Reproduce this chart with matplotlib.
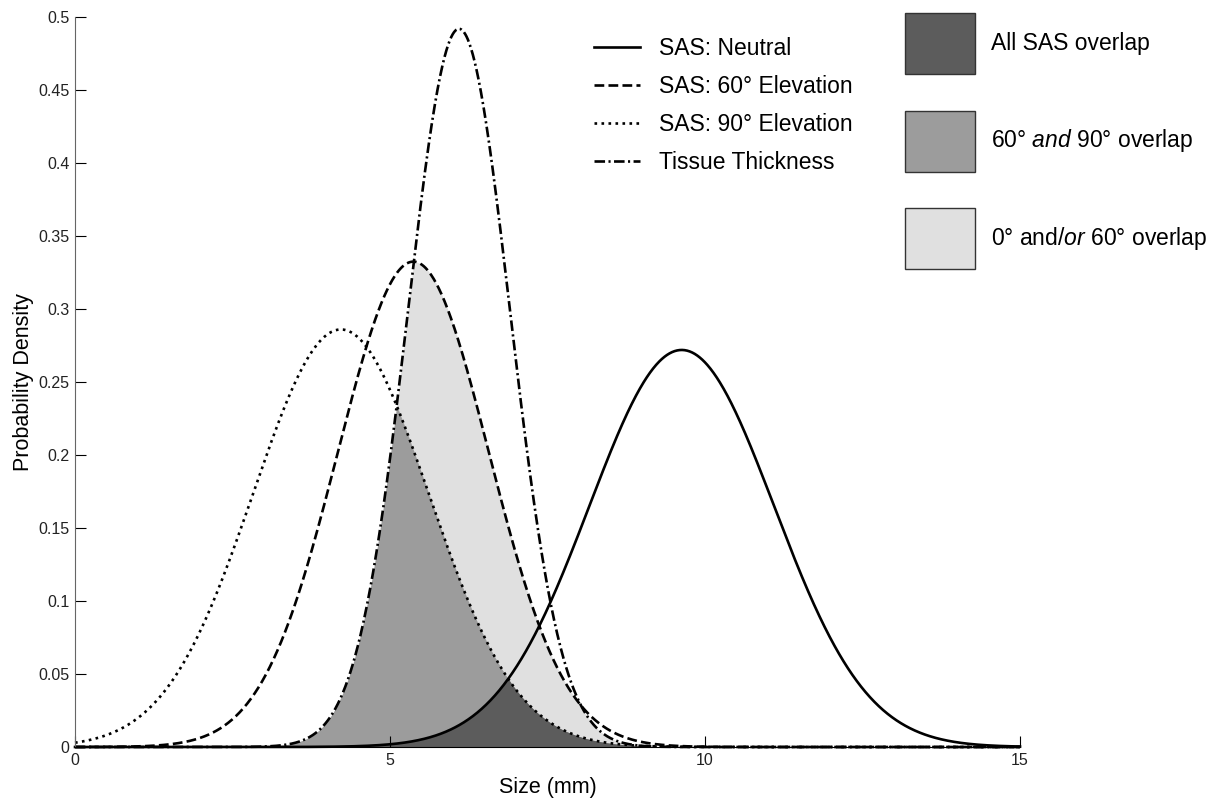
import numpy as np
import matplotlib
matplotlib.use('Agg')
import matplotlib.pyplot as plt
from matplotlib.lines import Line2D
from matplotlib.patches import Patch

plt.rcParams['font.family'] = ['Liberation Sans', 'DejaVu Sans']
plt.rcParams['mathtext.fontset'] = 'custom'
plt.rcParams['mathtext.rm'] = 'Liberation Sans'
plt.rcParams['mathtext.it'] = 'Liberation Sans:italic'

# Normalverteilungen (Mittelwert, Standardabweichung)
kurven_namen = ['SAS: Neutral', 'SAS: 60° Elevation', 'SAS: 90° Elevation', 'Tissue Thickness']
mittelwerte = [9.63, 5.37, 4.22, 6.095]
standardabw = [1.467, 1.200, 1.395, 0.811]
linienstile = ['-', '--', ':', (0, (4, 1.3, 0.8, 1.3))]

flaechen_namen = ['All SAS overlap', '60° $\\mathit{and}$ 90° overlap', '0° and/$\\mathit{or}$ 60° overlap']
flaechen_farben = ['#5c5c5c', '#9c9c9c', '#e0e0e0']

xticks = [0, 5, 10, 15]
yticks = [0, 0.05, 0.1, 0.15, 0.2, 0.25, 0.3, 0.35, 0.4, 0.45, 0.5]
ytick_labels = ['0', '0.05', '0.1', '0.15', '0.2', '0.25', '0.3', '0.35', '0.4', '0.45', '0.5']

x = np.linspace(0, 15, 1500)
dichten = [np.exp(-(x - m) ** 2 / (2 * s ** 2)) / (s * np.sqrt(2 * np.pi))
           for m, s in zip(mittelwerte, standardabw)]
neutral, e60, e90, gewebe = dichten

fig = plt.figure(figsize=(12.22, 7.98), dpi=100)
ax = fig.add_axes([0.0614, 0.0639, 0.7733, 0.9148])

# Ueberlappungsflaechen
ax.fill_between(x, 0, np.minimum(gewebe, e60), color=flaechen_farben[2], lw=0)
ax.fill_between(x, 0, np.minimum.reduce([gewebe, e60, e90]), color=flaechen_farben[1], lw=0)
ax.fill_between(x, 0, np.minimum.reduce([gewebe, e60, e90, neutral]), color=flaechen_farben[0], lw=0)

for y, ls, name in zip(dichten, linienstile, kurven_namen):
    ax.plot(x, y, color='black', ls=ls, lw=1.9, clip_on=False, label=name)

ax.set_xlim(0, 15)
ax.set_ylim(0, 0.5)
ax.set_xticks(xticks)
ax.set_xticklabels([str(t) for t in xticks])
ax.set_yticks(yticks)
ax.set_yticklabels(ytick_labels)
ax.tick_params(direction='in', length=8, labelsize=11.5, labelcolor='#222222', pad=4)
ax.spines['top'].set_visible(False)
ax.spines['right'].set_visible(False)
ax.spines['left'].set_color('#666666')
ax.spines['bottom'].set_color('black')

ax.set_xlabel('Size (mm)', fontsize=15.5, labelpad=7)
ax.set_ylabel('Probability Density', fontsize=15.5, labelpad=3)

# Legende Linien
linien_handles = [Line2D([], [], color='black', ls=ls, lw=1.9) for ls in linienstile]
leg1 = fig.legend(linien_handles, kurven_namen, loc='upper left',
                  bbox_to_anchor=(594 / 1222, 1 - 37 / 798), frameon=False,
                  fontsize=16.5, handlelength=2.0, handletextpad=0.85,
                  labelspacing=0.65, borderpad=0, borderaxespad=0)

# Legende Flaechen
flaechen_handles = [Patch(facecolor=c, edgecolor='#333333', lw=1) for c in flaechen_farben]
leg2 = fig.legend(flaechen_handles, flaechen_namen, loc='upper left',
                  bbox_to_anchor=(905 / 1222, 1 - 13 / 798), frameon=False,
                  fontsize=16.5, handlelength=3.04, handleheight=3.72,
                  handletextpad=0.7, labelspacing=1.6, borderpad=0, borderaxespad=0)

fig.savefig('out.png', dpi=100)
